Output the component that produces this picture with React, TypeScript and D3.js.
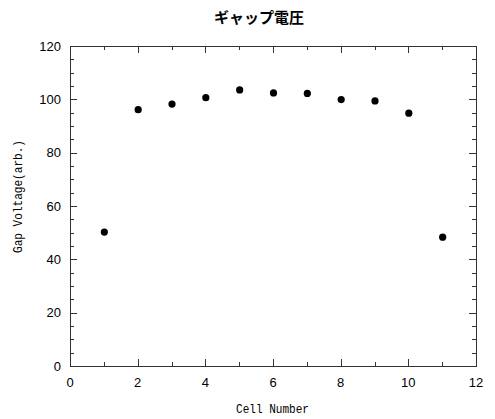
import React, { useEffect, useRef } from "react";
import * as d3 from "d3";

const cells = [1, 2, 3, 4, 5, 6, 7, 8, 9, 10, 11];
const gapVoltage = [50.4, 96.3, 98.4, 100.8, 103.7, 102.6, 102.4, 100.1, 99.6, 95.0, 48.5];
const xMajorTicks = [0, 2, 4, 6, 8, 10, 12];
const xMinorTicks = [1, 3, 5, 7, 9, 11];
const yMajorTicks = [0, 20, 40, 60, 80, 100, 120];

const title = "ギャップ電圧";
const xTitle = "Cell Number";
const yTitle = "Gap Voltage(arb.)";

const W = 495,
  H = 419;
const margin = { left: 70, right: 19, top: 46, bottom: 53 };

export default function App() {
  const ref = useRef<SVGSVGElement>(null);

  useEffect(() => {
    const svg = d3.select(ref.current);
    svg.selectAll("*").remove();

    const x = d3.scaleLinear().domain([0, 12]).range([margin.left, W - margin.right]);
    const y = d3.scaleLinear().domain([0, 120]).range([H - margin.bottom, margin.top]);
    const x0 = margin.left,
      x1 = W - margin.right,
      y0 = H - margin.bottom,
      y1 = margin.top;

    const yMinor = d3.range(0, 121, 5).filter(v => v % 20 !== 0);
    const tickColor = "#333";

    // frame
    svg
      .append("rect")
      .attr("x", x0 + 0.5)
      .attr("y", y1 + 0.5)
      .attr("width", x1 - x0)
      .attr("height", y0 - y1)
      .attr("fill", "none")
      .attr("stroke", tickColor)
      .attr("stroke-width", 1);

    const ticks = svg.append("g").attr("stroke", tickColor).attr("stroke-width", 1);

    // x ticks (bottom and top, inward)
    const xTick = (vals: number[], len: number) => {
      vals.forEach(v => {
        const px = Math.round(x(v)) + 0.5;
        ticks.append("line").attr("x1", px).attr("x2", px).attr("y1", y0).attr("y2", y0 - len);
        ticks.append("line").attr("x1", px).attr("x2", px).attr("y1", y1).attr("y2", y1 + len);
      });
    };
    xTick(xMajorTicks.slice(1, -1), 7);
    xTick(xMinorTicks, 4);

    // y ticks (left and right, inward)
    const yTick = (vals: number[], len: number) => {
      vals.forEach(v => {
        const py = Math.round(y(v)) + 0.5;
        ticks.append("line").attr("x1", x0).attr("x2", x0 + len).attr("y1", py).attr("y2", py);
        ticks.append("line").attr("x1", x1).attr("x2", x1 - len).attr("y1", py).attr("y2", py);
      });
    };
    yTick(yMajorTicks.slice(1, -1), 7);
    yTick(yMinor, 4);

    const labelFont = "'Liberation Sans', Arial, sans-serif";

    svg
      .append("g")
      .selectAll("text")
      .data(xMajorTicks)
      .join("text")
      .attr("x", d => x(d))
      .attr("y", 387)
      .attr("text-anchor", "middle")
      .attr("font-family", labelFont)
      .attr("font-size", 13)
      .text(d => d);

    svg
      .append("g")
      .selectAll("text")
      .data(yMajorTicks)
      .join("text")
      .attr("x", 61)
      .attr("y", d => y(d) + 4.5)
      .attr("text-anchor", "end")
      .attr("font-family", labelFont)
      .attr("font-size", 13)
      .text(d => d);

    // points
    svg
      .append("g")
      .selectAll("circle")
      .data(cells)
      .join("circle")
      .attr("cx", (d, i) => x(d) + 0.5)
      .attr("cy", (d, i) => y(gapVoltage[i]) + 0.5)
      .attr("r", 3.6)
      .attr("fill", "#000");

    // titles
    svg
      .append("text")
      .attr("x", 259)
      .attr("y", 23)
      .attr("text-anchor", "middle")
      .attr("font-family", "'Noto Sans CJK JP', sans-serif")
      .attr("font-weight", "bold")
      .attr("font-size", 15)
      .text(title);

    svg
      .append("text")
      .attr("x", 236)
      .attr("y", 413)
      .attr("font-family", "'Liberation Mono', monospace")
      .attr("font-size", 13)
      .attr("textLength", 73)
      .attr("lengthAdjust", "spacingAndGlyphs")
      .text(xTitle);

    svg
      .append("text")
      .attr("transform", "translate(22,253) rotate(-90)")
      .attr("font-family", "'Liberation Mono', monospace")
      .attr("font-size", 13)
      .attr("textLength", 113)
      .attr("lengthAdjust", "spacingAndGlyphs")
      .text(yTitle);
  }, []);

  return (
    <svg
      ref={ref}
      width={W}
      height={H}
      style={{ position: "absolute", left: 0, top: 0, background: "#fff" }}
    />
  );
}
